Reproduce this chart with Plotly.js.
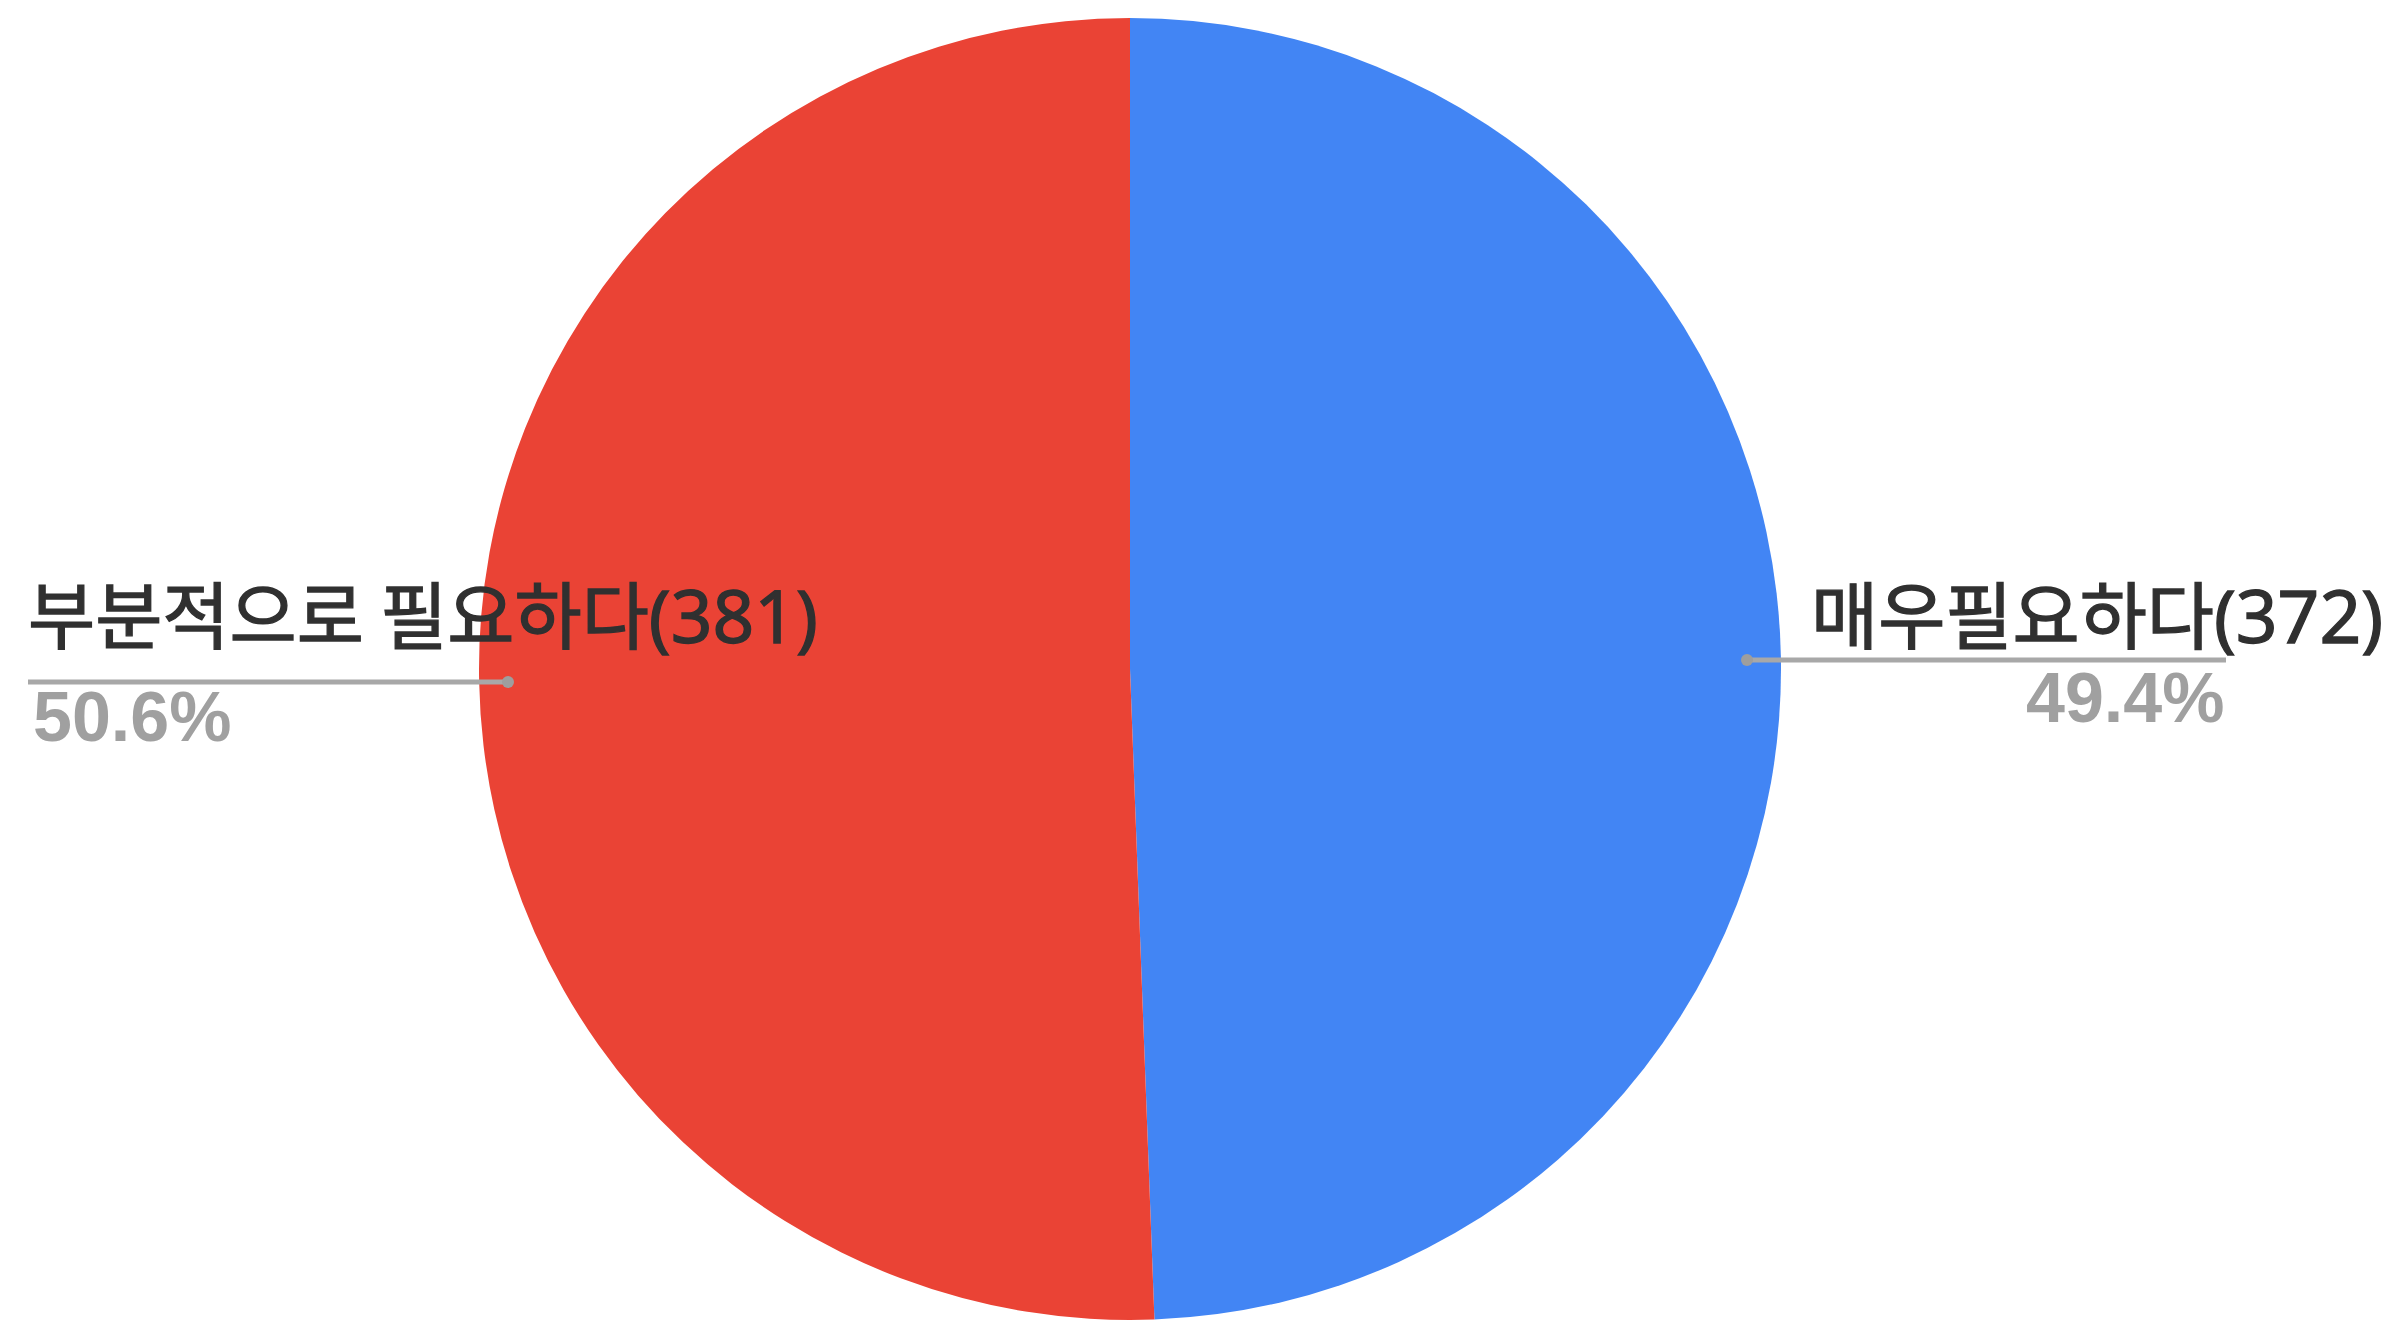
<!DOCTYPE html>
<html>
<head>
<meta charset="utf-8">
<script src="https://cdn.plot.ly/plotly-3.0.1.min.js"></script>
<style>
  html, body { margin: 0; padding: 0; background: #ffffff; }
  #chart { width: 2407px; height: 1324px; }
</style>
</head>
<body>
<div id="chart"></div>
<script>
// Data
const categories = ["매우필요하다", "부분적으로 필요하다"];
const counts = [372, 381];
const sliceColors = ["#4285F4", "#EA4335"];

const W = 2407, H = 1324;
const px = x => x / W;
const py = y => (H - y) / H;

const total = counts.reduce((a, b) => a + b, 0);
const pct = counts.map(v => (v / total * 100).toFixed(1) + "%");

// Pie geometry (pixels)
const cx = 1130, cy = 669, r = 651;

const trace = {
  type: "pie",
  labels: categories,
  values: counts,
  marker: { colors: sliceColors, line: { width: 0 } },
  sort: false,
  direction: "clockwise",
  rotation: 0,
  textinfo: "none",
  hoverinfo: "label+value+percent",
  showlegend: false,
  domain: {
    x: [px(cx - r), px(cx + r)],
    y: [py(cy + r), py(cy - r)]
  }
};

const labelFont = { family: "Noto Sans CJK KR, sans-serif", size: 73, color: "#303030" };
const pctFont = { family: "Liberation Sans, Arial, sans-serif", size: 70, color: "#a0a0a0", weight: 700 };
const lineColor = "#a8a8a8";

const placements = [
  { tx: 1809, ty: 611, ta: "left", lx0: 1747, lx1: 2226, ly: 660, dx: 1747, pxp: 2226, pyp: 698, pa: "right" },
  { tx: 26, ty: 611, ta: "left", lx0: 28, lx1: 508, ly: 682, dx: 508, pxp: 31, pyp: 717, pa: "left" }
];

const annotations = [];
const shapes = [];
categories.forEach((c, i) => {
  const p = placements[i];
  annotations.push({
    xref: "paper", yref: "paper", x: px(p.tx), y: py(p.ty),
    xanchor: p.ta, yanchor: "middle", showarrow: false,
    text: c + "<span style=\"font-family:'Noto Sans'\">(" + counts[i] + ")</span>", font: labelFont
  });
  annotations.push({
    xref: "paper", yref: "paper", x: px(p.pxp), y: py(p.pyp),
    xanchor: p.pa, yanchor: "middle", showarrow: false,
    text: "<b>" + pct[i] + "</b>", font: pctFont
  });
  shapes.push({
    type: "line", xref: "paper", yref: "paper",
    x0: px(p.lx0), x1: px(p.lx1), y0: py(p.ly), y1: py(p.ly),
    line: { color: lineColor, width: 5 }
  });
  const dr = 6;
  shapes.push({
    type: "circle", xref: "paper", yref: "paper",
    x0: px(p.dx - dr), x1: px(p.dx + dr), y0: py(p.ly + dr), y1: py(p.ly - dr),
    fillcolor: "#9e9e9e", line: { width: 0 }
  });
});

const layout = {
  width: W, height: H,
  margin: { l: 0, r: 0, t: 0, b: 0 },
  paper_bgcolor: "#ffffff",
  plot_bgcolor: "#ffffff",
  showlegend: false,
  annotations: annotations,
  shapes: shapes
};

Plotly.newPlot("chart", [trace], layout, { displayModeBar: false, staticPlot: true }).then(gd => {
  // slightly embolden the category labels (even-indexed annotations)
  gd.querySelectorAll(".annotation").forEach((a, idx) => {
    if (idx % 2 === 0) {
      const t = a.querySelector("text");
      if (t) {
        t.style.stroke = "#303030";
        t.style.strokeWidth = "1.3px";
      }
    }
  });
});
</script>
</body>
</html>
